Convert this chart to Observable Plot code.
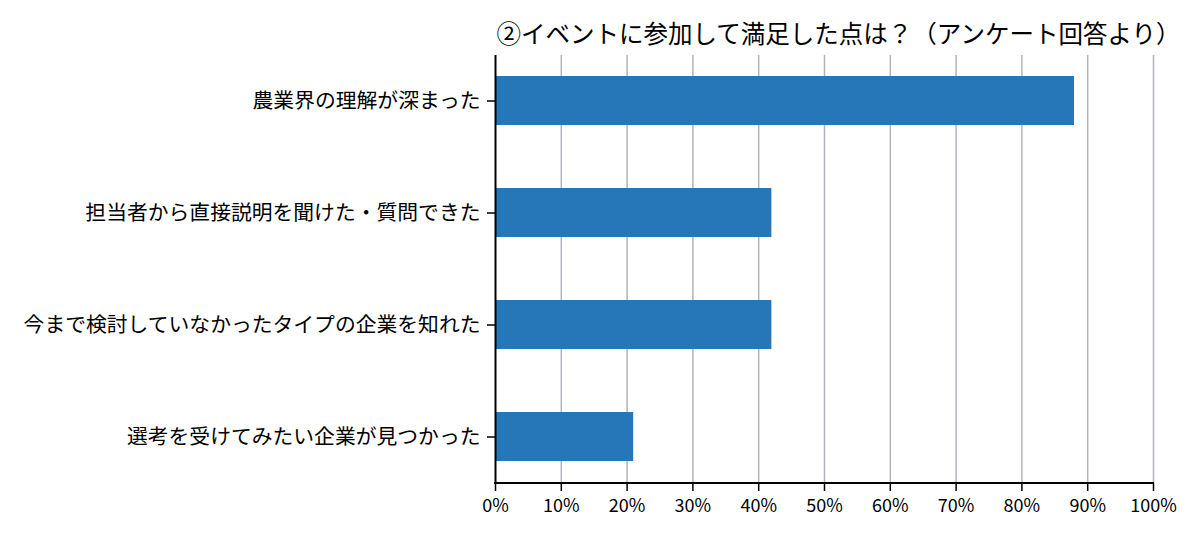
<!DOCTYPE html>
<html>
<head>
<meta charset="utf-8">
<script src="https://cdn.jsdelivr.net/npm/d3@7"></script>
<script src="https://cdn.jsdelivr.net/npm/@observablehq/plot@0.6"></script>
<style>
  html, body { margin: 0; padding: 0; background: #fff; }
  #title {
    font-family: "Noto Sans CJK JP", sans-serif;
    font-size: 24.5px;
    color: #000;
    margin-left: 495px;
    width: 687px;
    text-align: center;
    white-space: nowrap;
    height: 42px;
    padding-top: 8px;
    line-height: 50px;
  }
  #chart svg { display: block; }
</style>
</head>
<body>
<div id="title">②イベントに参加して満足した点は？（アンケート回答より）</div>
<div id="chart"></div>
<script>
const categories = [
  "農業界の理解が深まった",
  "担当者から直接説明を聞けた・質問できた",
  "今まで検討していなかったタイプの企業を知れた",
  "選考を受けてみたい企業が見つかった"
];
const values = [88, 42, 42, 21];
const xTicks = [0, 10, 20, 30, 40, 50, 60, 70, 80, 90, 100];
const xTickLabels = xTicks.map(d => d + "%");

const data = categories.map((c, i) => ({label: c, value: values[i]}));

const H = 490, MB = 57;

const chart = Plot.plot({
  width: 1200,
  height: H,
  marginTop: 5,
  marginBottom: MB,
  marginLeft: 495,
  marginRight: 47,
  style: {fontFamily: "'Noto Sans CJK JP', sans-serif", background: "white", color: "#000"},
  x: {domain: [0, 100], ticks: xTicks},
  y: {domain: categories, paddingInner: 0.56, paddingOuter: 0.177},
  marks: [
    Plot.ruleX(xTicks.slice(1), {stroke: "#b4b2bc", strokeWidth: 1.5}),
    Plot.barX(data, {x: "value", y: "label", fill: "#2577b7"}),
    Plot.ruleX([0], {stroke: "#000", strokeWidth: 2}),
    Plot.axisX({ticks: xTicks, tickFormat: (d) => xTickLabels[xTicks.indexOf(d)], tickSize: 8, tickPadding: 8, fontSize: 18, strokeWidth: 1.5, label: null}),
    Plot.axisY({tickSize: 8, tickPadding: 7, fontSize: 20.8, strokeWidth: 1.5, label: null})
  ]
});

// bottom spine drawn from the x scale
const xs = chart.scale("x");
const yBottom = H - MB;
d3.select(chart).append("line")
  .attr("x1", xs.apply(0) - 1)
  .attr("x2", xs.apply(100) + 1)
  .attr("y1", yBottom)
  .attr("y2", yBottom)
  .attr("stroke", "#000")
  .attr("stroke-width", 2);

document.getElementById("chart").appendChild(chart);
</script>
</body>
</html>
